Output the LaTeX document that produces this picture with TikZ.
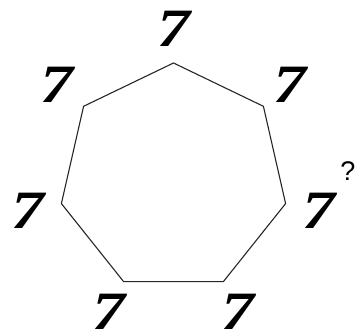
\documentclass[tikz,border=0pt]{standalone}
\usepackage{fontspec}
\newfontfamily\sevenfont{Liberation Serif}
\newfontfamily\askfont{Liberation Sans}

\begin{document}
\begin{tikzpicture}[x=1pt,y=1pt,
  seven/.style={font=\sevenfont\bfseries\itshape\fontsize{54}{54}\selectfont, inner sep=0pt, xscale=1.22},
  side/.style={line width=1.1pt, draw=black!85, line join=miter}]

\def \hepradius {115}
\def \labelradius {149}

\useasboundingbox (-173.5,-158) rectangle (186.5,178);

% corners of the heptagon
\coordinate (v1) at (90:\hepradius);
\coordinate (v2) at (141.43:\hepradius);
\coordinate (v3) at (192.86:\hepradius);
\coordinate (v4) at (244.29:\hepradius);
\coordinate (v5) at (295.71:\hepradius);
\coordinate (v6) at (347.14:\hepradius);
\coordinate (v7) at (38.57:\hepradius);

\draw [side] (v1) -- (v2) -- (v3) -- (v4) -- (v5) -- (v6) -- (v7) -- cycle;

\node [seven] (s1) at (90:\labelradius) {7};
\node [seven] (s2) at (141.43:\labelradius) {7};
\node [seven] (s3) at (192.86:\labelradius) {7};
\node [seven] (s4) at (244.29:\labelradius) {7};
\node [seven] (s5) at (295.71:\labelradius) {7};
\node [seven] (s6) at (347.14:\labelradius) {7};
\node [seven] (s7) at (38.57:\labelradius) {7};

\node [font=\askfont\fontsize{27}{27}\selectfont, inner sep=0pt] (ask) at (174.5,7) {?};
\end{tikzpicture}
\end{document}
